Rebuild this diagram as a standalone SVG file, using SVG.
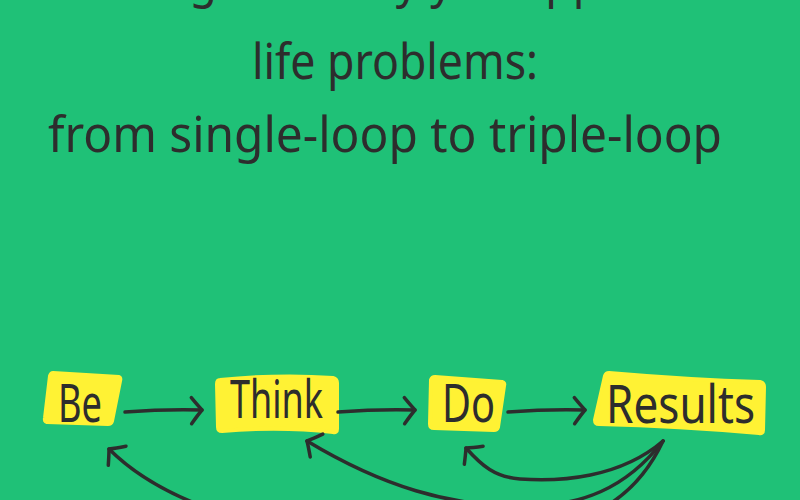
<svg xmlns="http://www.w3.org/2000/svg" width="800" height="500" viewBox="0 0 800 500">
<defs>
<style>
.t{font-family:"Noto Sans","DejaVu Sans",sans-serif;fill:#2d2d2d;font-size:50px}
.n{font-family:"Noto Sans","DejaVu Sans",sans-serif;fill:#2d2d2d;font-size:52px}
.hl{fill:#fff234;stroke:#fff234;stroke-width:4;stroke-linejoin:round}
.c{fill:none;stroke:#2d2d2d;stroke-width:3.5;stroke-linecap:round;marker-end:url(#ah)}
</style>
<marker id="ah" markerUnits="userSpaceOnUse" markerWidth="40" markerHeight="40" viewBox="-20 -20 40 40" refX="0" refY="0" orient="auto" overflow="visible">
<path d="M-11,-12 Q-4,-4 0,0 Q-4,5 -10,14" fill="none" stroke="#2d2d2d" stroke-width="3.5" stroke-linecap="round" stroke-linejoin="round"/>
</marker>
</defs>
<rect width="800" height="500" fill="#1fc177"/>
<g id="title">
<text class="t" x="80" y="-3" textLength="640" lengthAdjust="spacingAndGlyphs">Change the way you approach</text>
<text class="t" x="252" y="79" textLength="286" lengthAdjust="spacingAndGlyphs">life problems:</text>
<text class="t" x="48" y="152" textLength="674" lengthAdjust="spacingAndGlyphs">from single-loop to triple-loop</text>
</g>
<g id="node-be">
<path class="hl" d="M53,373 L119,377 Q121,378 120,381 L112,421 Q111,424 108,424 L47,422 Q44,421 45,418 L50,376 Q51,373 53,373 Z"/>
<text class="n" x="58" y="422" textLength="44" lengthAdjust="spacingAndGlyphs">Be</text>
</g>
<g id="node-think">
<path class="hl" d="M220,380 Q280,374 333,378 Q337,379 337,383 L337,429 Q337,433 333,432 Q280,426 222,431 Q218,431 218,427 L217,384 Q217,380 220,380 Z"/>
<text class="n" x="230" y="418" textLength="93" lengthAdjust="spacingAndGlyphs">Think</text>
</g>
<g id="node-do">
<path class="hl" d="M435,377 L502,382 Q505,383 504,386 L498,427 Q497,430 494,430 L434,428 Q430,428 430,424 L431,380 Q432,377 435,377 Z"/>
<text class="n" x="442" y="422" textLength="53" lengthAdjust="spacingAndGlyphs">Do</text>
</g>
<g id="node-results">
<path class="hl" d="M609,373 Q690,380 760,382 Q764,383 764,387 L763,430 Q763,434 759,433 Q680,426 599,424 Q595,424 595,420 L605,376 Q606,373 609,373 Z"/>
<text class="n" x="606" y="423" textLength="149" lengthAdjust="spacingAndGlyphs">Results</text>
</g>
<g id="connectors">
<path class="c" d="M125,412 Q165,409 202,410"/>
<path class="c" d="M338,412 Q378,409 415,410"/>
<path class="c" d="M508,412 Q548,409 585,410"/>
<path class="c" d="M663,441 C620,478 560,482 520,479 C495,477 482,466 466,448"/>
<path class="c" d="M663,441 C625,490 580,505 530,506 C450,508 380,485 307,441"/>
<path class="c" d="M663,441 C640,490 600,530 480,540 C330,550 180,520 109,449"/>
</g>
</svg>
